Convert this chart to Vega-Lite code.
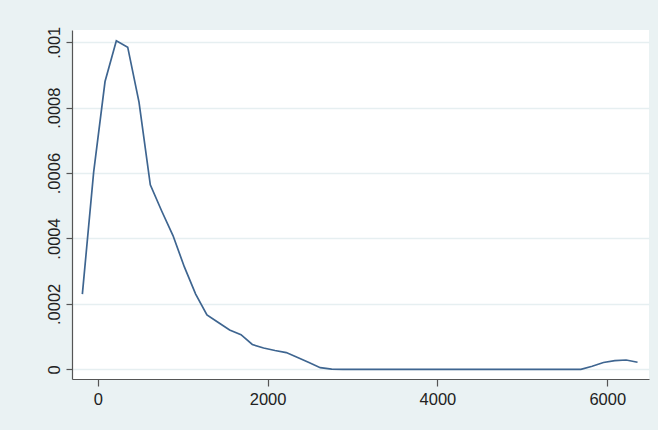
{
  "$schema": "https://vega.github.io/schema/vega-lite/v6.json",
  "width": 577,
  "height": 349,
  "autosize": {"type": "none"},
  "padding": {"left": 72, "top": 30, "right": 9, "bottom": 51},
  "background": "#EAF2F3",
  "config": {
    "view": {"fill": "white", "stroke": null},
    "font": "Liberation Sans"
  },
  "data": {
    "values": [
      {"x": -181, "density": 0.000230},
      {"x": -48, "density": 0.000603},
      {"x": 86, "density": 0.000880},
      {"x": 219, "density": 0.001005},
      {"x": 353, "density": 0.000985},
      {"x": 486, "density": 0.000817},
      {"x": 619, "density": 0.000564},
      {"x": 753, "density": 0.000484},
      {"x": 886, "density": 0.000409},
      {"x": 1020, "density": 0.000313},
      {"x": 1153, "density": 0.000230},
      {"x": 1286, "density": 0.000166},
      {"x": 1420, "density": 0.000143},
      {"x": 1553, "density": 0.000120},
      {"x": 1687, "density": 0.000106},
      {"x": 1820, "density": 0.0000758},
      {"x": 1953, "density": 0.0000651},
      {"x": 2087, "density": 0.0000575},
      {"x": 2220, "density": 0.0000511},
      {"x": 2354, "density": 0.0000361},
      {"x": 2487, "density": 0.0000205},
      {"x": 2620, "density": 0.0000049},
      {"x": 2754, "density": 0.0000005},
      {"x": 2887, "density": 0},
      {"x": 3021, "density": 0},
      {"x": 3154, "density": 0},
      {"x": 3287, "density": 0},
      {"x": 3421, "density": 0},
      {"x": 3554, "density": 0},
      {"x": 3688, "density": 0},
      {"x": 3821, "density": 0},
      {"x": 3954, "density": 0},
      {"x": 4088, "density": 0},
      {"x": 4221, "density": 0},
      {"x": 4355, "density": 0},
      {"x": 4488, "density": 0},
      {"x": 4621, "density": 0},
      {"x": 4755, "density": 0},
      {"x": 4888, "density": 0},
      {"x": 5022, "density": 0},
      {"x": 5155, "density": 0},
      {"x": 5288, "density": 0},
      {"x": 5422, "density": 0},
      {"x": 5555, "density": 0},
      {"x": 5689, "density": 0},
      {"x": 5822, "density": 0.0000092},
      {"x": 5955, "density": 0.0000208},
      {"x": 6089, "density": 0.0000266},
      {"x": 6222, "density": 0.0000284},
      {"x": 6356, "density": 0.0000214}
    ]
  },
  "mark": {"type": "line", "color": "#3E6590", "strokeWidth": 1.7, "clip": true},
  "encoding": {
    "x": {
      "field": "x",
      "type": "quantitative",
      "scale": {"domain": [-303, 6491], "nice": false, "zero": false},
      "axis": {
        "title": null,
        "values": [0, 2000, 4000, 6000],
        "format": "d",
        "grid": false,
        "domainColor": "#555555",
        "domainWidth": 1.2,
        "tickColor": "#555555",
        "tickWidth": 1.2,
        "tickSize": 7,
        "labelFontSize": 16.5,
        "labelColor": "#222222",
        "labelPadding": 5,
        "labelFont": "Liberation Sans"
      }
    },
    "y": {
      "field": "density",
      "type": "quantitative",
      "scale": {"domain": [-0.0000297, 0.0010376], "nice": false, "zero": false},
      "axis": {
        "title": null,
        "values": [0, 0.0002, 0.0004, 0.0006, 0.0008, 0.001],
        "format": ".4~f",
        "labelExpr": "replace(datum.label, '0.', '.')",
        "grid": true,
        "gridColor": "#E6EFF1",
        "gridWidth": 1.6,
        "domainColor": "#555555",
        "domainWidth": 1.2,
        "tickColor": "#555555",
        "tickWidth": 1.2,
        "tickSize": 6,
        "labelAngle": -90,
        "labelAlign": "center",
        "labelBaseline": "bottom",
        "labelFontSize": 16.5,
        "labelColor": "#222222",
        "labelPadding": 4,
        "labelFont": "Liberation Sans"
      }
    }
  }
}
